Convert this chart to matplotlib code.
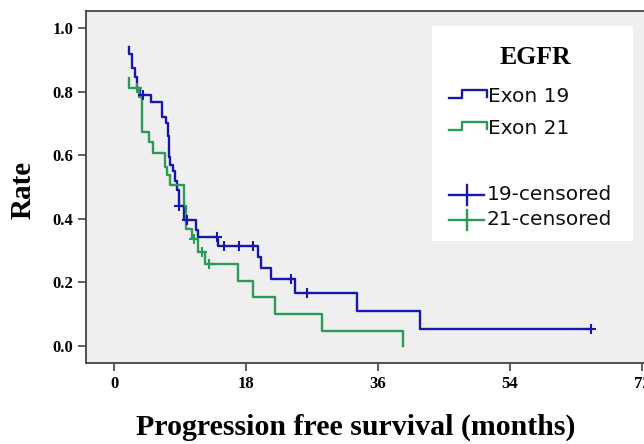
import matplotlib
matplotlib.use("Agg")
import matplotlib.pyplot as plt

# Kaplan-Meier estimates, progression free survival by EGFR mutation
exon19_t = [2.1, 2.1, 2.5, 2.9, 3.1, 3.5, 5.1, 6.6, 7.1, 7.3, 7.5, 7.6, 8.0, 8.3, 8.6, 8.8,
            9.6, 11.2, 11.4, 14.2, 19.6, 20.0, 21.4, 24.7, 33.1, 41.7, 65.0]
exon19_s = [0.939, 0.918, 0.873, 0.847, 0.81, 0.79, 0.768, 0.72, 0.70, 0.66, 0.595, 0.57, 0.55,
            0.52, 0.49, 0.44, 0.396, 0.365, 0.342, 0.315, 0.281, 0.244, 0.21, 0.166, 0.111,
            0.053, 0.053]
exon19_cens_t = [3.9, 8.9, 9.9, 14.1, 15.0, 17.0, 19.0, 24.2, 26.3, 65.0]
exon19_cens_s = [0.79, 0.44, 0.396, 0.342, 0.315, 0.315, 0.315, 0.21, 0.166, 0.053]

exon21_t = [2.1, 2.1, 3.4, 3.8, 4.8, 5.3, 7.0, 7.2, 7.7, 9.6, 9.8, 10.6, 11.4, 12.4, 16.9,
            18.9, 21.9, 28.3, 39.4, 39.4]
exon21_s = [0.842, 0.81, 0.784, 0.674, 0.64, 0.608, 0.564, 0.538, 0.506, 0.44, 0.367, 0.336,
            0.297, 0.258, 0.205, 0.153, 0.10, 0.048, 0.048, 0.0]
exon21_cens_t = [3.1, 10.9, 12.0, 13.0]
exon21_cens_s = [0.81, 0.336, 0.297, 0.258]

xticks = [0, 18, 36, 54, 72]
yticks = [0.0, 0.2, 0.4, 0.6, 0.8, 1.0]

blue = "#1717b0"
green = "#2e9a58"
W, H = 644, 444

fig = plt.figure(figsize=(W / 100, H / 100), dpi=100)
ax = fig.add_axes([86 / W, 1 - 363 / H, 570 / W, 352 / H])
ax.set_facecolor("#efefef")

ax.step(exon19_t, exon19_s, where="post", color=blue, lw=1.7)
ax.step(exon21_t, exon21_s, where="post", color=green, lw=1.7)
ax.plot(exon19_cens_t, exon19_cens_s, "+", color=blue, ms=7, mew=1.5)
ax.plot(exon21_cens_t, exon21_cens_s, "+", color=green, ms=7, mew=1.5)

ax.set_xlim(-3.82, 73.9)
ax.set_ylim(-0.053, 1.053)
ax.set_xticks(xticks)
ax.set_yticks(yticks)
ax.set_xticklabels([str(v) for v in xticks], family="Liberation Serif", weight="bold", fontsize=12)
ax.set_yticklabels(["%.1f" % v for v in yticks], family="Liberation Serif", weight="bold", fontsize=12)
ax.tick_params(direction="out", length=6, width=1.2, color="#444444", pad=3)
for sp in ax.spines.values():
    sp.set_color("#444444")
    sp.set_linewidth(1.3)

fig.text(23 / W, 1 - 190 / H, "Rate", rotation=90, ha="center", va="center",
         family="Liberation Serif", weight="bold", fontsize=21)
fig.text(356 / W, 1 - 427 / H, "Progression free survival (months)", ha="center", va="center",
         family="Liberation Serif", weight="bold", fontsize=21.5)

# legend panel, coordinates in pixels
lax = fig.add_axes([432 / W, 1 - 241 / H, 201 / W, 215 / H])
lax.set_xlim(432, 633)
lax.set_ylim(241, 26)
lax.set_facecolor("white")
lax.set_xticks([])
lax.set_yticks([])
for sp in lax.spines.values():
    sp.set_visible(False)

lax.text(535, 57, "EGFR", ha="center", va="center", family="Liberation Serif",
         weight="bold", fontsize=18.5)
for y0, c, lab in [(98, blue, "Exon 19"), (130.5, green, "Exon 21")]:
    lax.plot([449, 462, 462, 487, 487], [y0, y0, y0 - 8, y0 - 8, y0 - 1], color=c, lw=1.7)
    lax.text(488, y0 - 2, lab, ha="left", va="center", family="DejaVu Sans", fontsize=14.5,
             color="#111111")
for y0, c, lab in [(195, blue, "19-censored"), (220, green, "21-censored")]:
    lax.plot([449, 484], [y0, y0], color=c, lw=1.7)
    lax.plot([466.5, 466.5], [y0 - 10, y0 + 10], color=c, lw=1.7)
    lax.text(487, y0 - 1, lab, ha="left", va="center", family="DejaVu Sans", fontsize=14.5,
             color="#111111")

fig.savefig("out.png", dpi=100)
